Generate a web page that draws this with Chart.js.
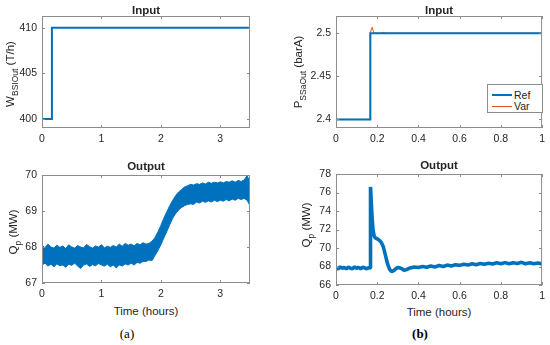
<!DOCTYPE html>
<html>
<head>
<meta charset="utf-8">
<script src="https://cdn.jsdelivr.net/npm/chart.js@4.4.1/dist/chart.umd.min.js"></script>
<style>
  body { margin: 0; background: #fff; width: 550px; height: 345px; position: relative; overflow: hidden;
         font-family: "Liberation Sans", Arial, sans-serif; color: #262626; }
  .panel { position: absolute; }
  .ttl { position: absolute; font-weight: bold; font-size: 11.5px; transform: translate(-50%, -50%); white-space: nowrap; }
  .xlab { position: absolute; font-size: 11.5px; transform: translate(-50%, -50%); white-space: nowrap; }
  .ylab { position: absolute; font-size: 11.5px; transform: translate(-50%, -50%) rotate(-90deg); white-space: nowrap; }
  .ylab sub { font-size: 8.5px; }
  .cap { position: absolute; font-family: "Liberation Serif", "Times New Roman", serif; font-size: 13px;
         transform: translate(-50%, -50%); color: #000; }
  .legend { position: absolute; left: 487px; top: 84px; width: 54px; height: 27px; border: 1px solid #8c8c8c; background: #fff; }
  .legend .ln { position: absolute; left: 4px; width: 20px; }
  .legend .tx { position: absolute; left: 26px; font-size: 10.5px; transform: translateY(-50%); }
</style>
</head>
<body>
<div class="panel" style="left:0;top:0;width:275px;height:150px"><canvas id="inA" width="275" height="150"></canvas></div>
<div class="panel" style="left:275px;top:0;width:275px;height:150px"><canvas id="inB" width="275" height="150"></canvas></div>
<div class="panel" style="left:0;top:150px;width:275px;height:155px"><canvas id="outA" width="275" height="155"></canvas></div>
<div class="panel" style="left:275px;top:150px;width:275px;height:155px"><canvas id="outB" width="275" height="155"></canvas></div>

<div class="ttl" style="left:146px;top:10px">Input</div>
<div class="ttl" style="left:439px;top:10px">Input</div>
<div class="ttl" style="left:146px;top:166px">Output</div>
<div class="ttl" style="left:439px;top:165px">Output</div>

<div class="ylab" style="left:12px;top:74px">W<sub>BSIOut</sub> (T/h)</div>
<div class="ylab" style="left:300px;top:72px">P<sub>SSaOut</sub> (barA)</div>
<div class="ylab" style="left:15px;top:232px">Q<sub>p</sub> (MW)</div>
<div class="ylab" style="left:308px;top:225px">Q<sub>p</sub> (MW)</div>

<div class="xlab" style="left:146px;top:311px">Time (hours)</div>
<div class="xlab" style="left:439px;top:312px">Time (hours)</div>

<div class="cap" style="left:127px;top:334px">(a)</div>
<div class="cap" style="left:420px;top:334px;font-weight:bold">(b)</div>

<div class="legend">
  <div class="ln" style="top:9px;height:2px;background:#0072BD"></div>
  <div class="tx" style="top:10px">Ref</div>
  <div class="ln" style="top:21px;height:1px;background:#D95319"></div>
  <div class="tx" style="top:21px">Var</div>
</div>

<script>
// (a) input: steam flow step
const inTimeA = [0, 0.1667, 0.1667, 3.5];
const inFlowA = [400, 400, 410, 410];

// (b) input: pressure step, reference and variant
const inTimeRef = [0, 0.1667, 0.1667, 1];
const inPresRef = [2.4, 2.4, 2.5, 2.5];
const inTimeVar = [0, 0.165, 0.166, 0.172, 0.176, 0.18, 0.185, 0.22, 0.23, 0.24, 0.25, 1];
const inPresVar = [2.4, 2.4, 2.5, 2.505, 2.507, 2.503, 2.5, 2.5, 2.501, 2.5, 2.5, 2.5];

// (a) output: noisy band, upper and lower edges
const outTimeA = [0, 0.05, 0.1, 0.15, 0.2, 0.25, 0.3, 0.35, 0.4, 0.45, 0.5, 0.55, 0.6, 0.65, 0.7, 0.75, 0.8, 0.85, 0.9, 0.95,
  1.0, 1.05, 1.1, 1.15, 1.2, 1.25, 1.3, 1.35, 1.4, 1.45, 1.5, 1.55, 1.6, 1.65, 1.7, 1.75, 1.8, 1.85, 1.9, 1.95,
  2.0, 2.05, 2.1, 2.15, 2.2, 2.25, 2.3, 2.35, 2.4, 2.45, 2.5, 2.55, 2.6, 2.65, 2.7, 2.75, 2.8, 2.85, 2.9, 2.95,
  3.0, 3.05, 3.1, 3.15, 3.2, 3.25, 3.3, 3.35, 3.4, 3.45, 3.5];
const outHighA = [68.05, 67.98, 68.08, 68.0, 67.97, 68.05, 67.99, 68.03, 67.96, 68.06, 68.0, 67.97, 68.04, 68.0, 67.98, 68.07, 68.01, 67.97, 68.03, 68.0,
  68.06, 67.98, 68.02, 67.99, 68.04, 68.0, 68.08, 68.02, 68.1, 68.05, 68.08, 68.03, 68.1, 68.06, 68.12, 68.08, 68.1, 68.16, 68.26, 68.42,
  68.6, 68.8, 68.98, 69.15, 69.3, 69.43, 69.53, 69.6, 69.67, 69.7, 69.74, 69.72, 69.76, 69.74, 69.78, 69.75, 69.8, 69.77, 69.8, 69.78,
  69.81, 69.78, 69.82, 69.8, 69.84, 69.8, 69.85, 69.82, 69.86, 69.98, 69.82];
const outLowA = [67.5, 67.55, 67.47, 67.52, 67.45, 67.53, 67.48, 67.5, 67.44, 67.52, 67.49, 67.55, 67.47, 67.4, 67.5, 67.53, 67.46, 67.51, 67.48, 67.54,
  67.5, 67.47, 67.52, 67.45, 67.5, 67.42, 67.5, 67.47, 67.53, 67.5, 67.55, 67.5, 67.57, 67.55, 67.6, 67.6, 67.64, 67.62, 67.76, 67.9,
  68.06, 68.25, 68.43, 68.62, 68.8, 68.93, 69.03, 69.1, 69.15, 69.18, 69.2, 69.18, 69.25, 69.22, 69.27, 69.24, 69.28, 69.25, 69.3, 69.26,
  69.3, 69.27, 69.32, 69.28, 69.33, 69.3, 69.35, 69.32, 69.35, 69.3, 69.15];

// (b) output: power response
const outTimeB = [0, 0.01, 0.02, 0.03, 0.04, 0.05, 0.06, 0.07, 0.08, 0.09, 0.1, 0.11, 0.12, 0.13, 0.14, 0.15, 0.16, 0.166,
  0.1675, 0.172, 0.176, 0.18, 0.185, 0.19, 0.2, 0.21, 0.22, 0.23, 0.24, 0.25, 0.26, 0.27, 0.28, 0.29, 0.3, 0.31, 0.32, 0.33,
  0.34, 0.35, 0.36, 0.38, 0.4, 0.42, 0.44, 0.46, 0.48, 0.5, 0.52, 0.54, 0.56, 0.58, 0.6, 0.62, 0.64, 0.66, 0.68, 0.7,
  0.72, 0.74, 0.76, 0.78, 0.8, 0.82, 0.84, 0.86, 0.88, 0.9, 0.92, 0.94, 0.96, 0.98, 1.0];
const outPowerB = [67.85, 67.75, 67.95, 67.8, 67.9, 67.74, 67.93, 67.82, 67.76, 67.95, 67.8, 67.9, 67.76, 67.93, 67.84, 67.76, 67.9, 67.85,
  76.6, 74.6, 73.0, 71.9, 71.3, 71.1, 71.0, 70.85, 70.6, 70.1, 69.2, 68.3, 67.7, 67.45, 67.55, 67.75, 67.9, 67.85, 67.75, 67.6,
  67.65, 67.75, 67.85, 67.95, 67.9, 68.0, 67.92, 68.05, 67.95, 68.1, 68.0, 68.15, 68.05, 68.2, 68.12, 68.25, 68.15, 68.3, 68.2, 68.32,
  68.25, 68.35, 68.28, 68.4, 68.3, 68.42, 68.3, 68.4, 68.32, 68.45, 68.3, 68.4, 68.3, 68.38, 68.28];

// tick labels
const xTicksA = [0, 1, 2, 3];
const xTicksB = [0, 0.2, 0.4, 0.6, 0.8, 1];
const yTicksInA = [400, 405, 410];
const yTicksInB = [2.4, 2.45, 2.5];
const yTicksOutA = [67, 68, 69, 70];
const yTicksOutB = [66, 68, 70, 72, 74, 76, 78];

const blue = '#0072BD';
const orange = '#D95319';

Chart.defaults.font.family = '"Liberation Sans", Arial, sans-serif';
Chart.defaults.font.size = 10.5;
Chart.defaults.color = '#262626';

function pts(xs, ys) {
  return xs.map((x, i) => ({ x: x, y: ys[i] }));
}

// matlab-like box with inward ticks
const boxPlugin = {
  id: 'matBox',
  afterDatasetsDraw(chart) {
    const { ctx, chartArea: a, scales } = chart;
    ctx.save();
    ctx.strokeStyle = '#8c8c8c';
    ctx.lineWidth = 1;
    ctx.strokeRect(a.left + 0.5, a.top + 0.5, a.right - a.left - 1, a.bottom - a.top - 1);
    ctx.beginPath();
    scales.x.ticks.forEach(t => {
      const px = Math.round(scales.x.getPixelForValue(t.value)) + 0.5;
      ctx.moveTo(px, a.bottom); ctx.lineTo(px, a.bottom - 3);
      ctx.moveTo(px, a.top); ctx.lineTo(px, a.top + 3);
    });
    scales.y.ticks.forEach(t => {
      const py = Math.round(scales.y.getPixelForValue(t.value)) + 0.5;
      ctx.moveTo(a.left, py); ctx.lineTo(a.left + 3, py);
      ctx.moveTo(a.right, py); ctx.lineTo(a.right - 3, py);
    });
    ctx.stroke();
    ctx.restore();
  }
};

const plainNum = v => String(v);

function makePanel(id, box, area, xr, yr, datasets) {
  return new Chart(document.getElementById(id), {
    type: 'line',
    data: { datasets: datasets },
    plugins: [boxPlugin],
    options: {
      responsive: false,
      animation: false,
      events: [],
      layout: { padding: { left: 0, top: area.t - box.t, right: box.l + box.w - area.r, bottom: 0 } },
      plugins: { legend: { display: false }, tooltip: { enabled: false } },
      elements: { point: { radius: 0 }, line: { tension: 0 } },
      scales: {
        x: {
          type: 'linear', min: xr.min, max: xr.max,
          grid: { display: false, drawTicks: false }, border: { display: false },
          ticks: { padding: 5, maxRotation: 0, autoSkip: false, callback: plainNum },
          afterBuildTicks: s => { s.ticks = xr.ticks.map(v => ({ value: v })); },
          afterFit: s => { s.height = box.t + box.h - area.b; }
        },
        y: {
          type: 'linear', min: yr.min, max: yr.max,
          grid: { display: false, drawTicks: false }, border: { display: false },
          ticks: { padding: 5, autoSkip: false, callback: plainNum },
          afterBuildTicks: s => { s.ticks = yr.ticks.map(v => ({ value: v })); },
          afterFit: s => { s.width = area.l - box.l; }
        }
      }
    }
  });
}

makePanel('inA', { l: 0, t: 0, w: 275, h: 150 }, { l: 42, r: 250, t: 16, b: 128 },
  { min: 0, max: 3.5, ticks: xTicksA }, { min: 399, max: 411.3, ticks: yTicksInA },
  [{ data: pts(inTimeA, inFlowA), borderColor: blue, borderWidth: 2 }]);

makePanel('inB', { l: 275, t: 0, w: 275, h: 150 }, { l: 336, r: 543, t: 16, b: 128 },
  { min: 0, max: 1, ticks: xTicksB }, { min: 2.39, max: 2.52, ticks: yTicksInB },
  [
    { label: 'Ref', data: pts(inTimeRef, inPresRef), borderColor: blue, borderWidth: 2, order: 0 },
    { label: 'Var', data: pts(inTimeVar, inPresVar), borderColor: orange, borderWidth: 1, order: 1 }
  ]);

makePanel('outA', { l: 0, t: 150, w: 275, h: 155 }, { l: 42, r: 250, t: 175, b: 283 },
  { min: 0, max: 3.5, ticks: xTicksA }, { min: 67, max: 70, ticks: yTicksOutA },
  [
    { data: pts(outTimeA, outLowA), borderColor: blue, borderWidth: 1, fill: false },
    { data: pts(outTimeA, outHighA), borderColor: blue, borderWidth: 1, backgroundColor: blue, fill: '-1' }
  ]);

makePanel('outB', { l: 275, t: 150, w: 275, h: 155 }, { l: 336, r: 543, t: 174, b: 285 },
  { min: 0, max: 1, ticks: xTicksB }, { min: 66, max: 78, ticks: yTicksOutB },
  [{ data: pts(outTimeB, outPowerB), borderColor: blue, borderWidth: 3.6, borderJoinStyle: 'bevel' }]);
</script>
</body>
</html>
